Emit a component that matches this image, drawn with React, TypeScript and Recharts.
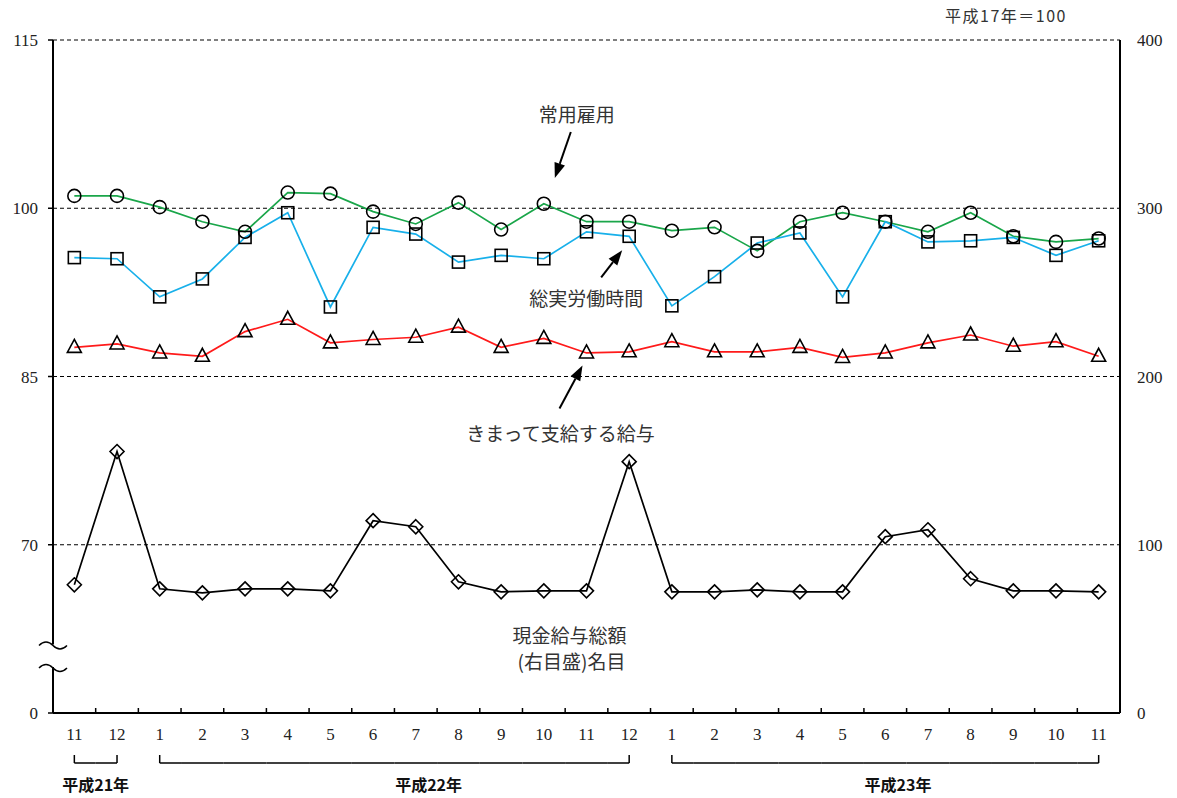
import React from 'react';
import { LineChart, Line, XAxis, YAxis, ReferenceLine, ReferenceDot, ReferenceArea } from 'recharts';

// months, keyed by year so the keys stay unique
const CATEGORIES = [
  '21-11', '21-12',
  '22-1', '22-2', '22-3', '22-4', '22-5', '22-6', '22-7', '22-8', '22-9', '22-10', '22-11', '22-12',
  '23-1', '23-2', '23-3', '23-4', '23-5', '23-6', '23-7', '23-8', '23-9', '23-10', '23-11',
];

const YEARS = [
  { label: '平成21年', first: 0, last: 1 },
  { label: '平成22年', first: 2, last: 13 },
  { label: '平成23年', first: 14, last: 24 },
];

// left axis (平成17年=100)
const JOYO_KOYO = [101.1, 101.1, 100.1, 98.8, 97.9, 101.4, 101.3, 99.7, 98.6, 100.5, 98.1, 100.4, 98.8, 98.8, 98.0, 98.3, 96.2, 98.8, 99.6, 98.8, 97.9, 99.6, 97.5, 97.0, 97.3];
const SOJITSU_RODO = [95.6, 95.5, 92.1, 93.7, 97.4, 99.6, 91.2, 98.3, 97.7, 95.2, 95.8, 95.5, 97.9, 97.5, 91.3, 93.9, 96.9, 97.8, 92.1, 98.8, 97.0, 97.1, 97.4, 95.8, 97.1];
const KIMATTE_KYUYO = [87.6, 87.9, 87.1, 86.8, 89.0, 90.1, 88.0, 88.3, 88.5, 89.4, 87.6, 88.4, 87.1, 87.2, 88.1, 87.2, 87.2, 87.6, 86.7, 87.1, 88.0, 88.7, 87.7, 88.1, 86.8];
// right axis
const GENKIN_KYUYO = [76.2, 155.4, 73.8, 71.4, 73.8, 73.8, 72.6, 114.3, 110.7, 78.0, 72.0, 72.6, 72.6, 149.4, 72.0, 72.0, 73.2, 72.0, 72.0, 104.8, 108.9, 79.8, 72.6, 72.6, 72.0];

const LEFT_TICKS = [55, 70, 85, 100, 115];
const RIGHT_TICKS = [0, 100, 200, 300, 400];
const GRID_VALUES = [70, 85, 100, 115];
// the broken stretch of the left axis
const BREAK_FROM = 59.1;
const BREAK_TO = 61.1;

const data = CATEGORIES.map((key, i) => ({
  key,
  joyo: JOYO_KOYO[i],
  sojitsu: SOJITSU_RODO[i],
  kimatte: KIMATTE_KYUYO[i],
  genkin: GENKIN_KYUYO[i],
}));

// where each year caption sits, in category-index units
const YEAR_LABEL_AT = [0.5, 8.3, 19.3];

const SERIF = "'Liberation Serif', 'DejaVu Serif', serif";
const JP = "'Noto Sans CJK JP', sans-serif";

// annotations: anchored on a category + left-axis value, offsets in px
const ANNOTATIONS = [
  { x: '22-10', y: 102.7, tip: [11, 0], tail: [27, -46], text: ['常用雇用'], textAt: [33, -64] },
  { x: '22-12', y: 96.25, tip: [-7, 0], tail: [-28, 27], text: ['総実労働時間'], textAt: [-43, 47] },
  { x: '22-11', y: 85.98, tip: [-4, 0], tail: [-27, 43], text: ['きまって支給する給与'], textAt: [-26, 67] },
  { x: '22-11', y: 61.96, tip: null, tail: null, text: ['現金給与総額', '(右目盛)名目'], textAt: [-17, 0] },
];

function Marker({ kind, cx, cy }: { kind: string; cx: number; cy: number }) {
  const s = { fill: 'none', stroke: '#000', strokeWidth: 1.6 };
  if (kind === 'circle') return <circle cx={cx} cy={cy} r={6.5} {...s} />;
  if (kind === 'square') return <rect x={cx - 6} y={cy - 6} width={12} height={12} {...s} />;
  if (kind === 'triangle')
    return <polygon points={`${cx},${cy - 8} ${cx + 7},${cy + 5} ${cx - 7},${cy + 5}`} {...s} />;
  return <polygon points={`${cx},${cy - 7} ${cx + 7},${cy} ${cx},${cy + 7} ${cx - 7},${cy}`} {...s} />;
}

const dotOf = (kind: string) => (props: any) => {
  const { cx, cy, index } = props;
  if (cx == null || cy == null) return <g key={`${kind}-${index}`} />;
  return (
    <g key={`${kind}-${index}`}>
      <Marker kind={kind} cx={cx} cy={cy} />
    </g>
  );
};

function MonthTick(props: any) {
  const { x, y, payload, index, width } = props;
  const bw = (width || 1067) / CATEGORIES.length;
  const month = String(payload.value).split('-')[1];
  const yi = YEARS.findIndex((yr) => index >= yr.first && index <= yr.last);
  const yr = YEARS[yi];
  const isFirst = index === yr.first;
  const isLast = index === yr.last;
  const left = isFirst ? x : x - bw / 2;
  const right = isLast ? x : x + bw / 2;
  const by = y + 50;
  return (
    <g>
      {index > 0 && <line x1={x - bw / 2} x2={x - bw / 2} y1={y} y2={y - 5} stroke="#000" strokeWidth={1.5} />}
      <text x={x} y={y + 27} textAnchor="middle" fontFamily={SERIF} fontSize={17} fill="#222">
        {month}
      </text>
      <line x1={left} x2={right} y1={by} y2={by} stroke="#000" strokeWidth={1.5} />
      {isFirst && <line x1={x} x2={x} y1={by} y2={by - 8} stroke="#000" strokeWidth={1.5} />}
      {isLast && <line x1={x} x2={x} y1={by} y2={by - 8} stroke="#000" strokeWidth={1.5} />}
      {isFirst && (
        <text
          x={x + (YEAR_LABEL_AT[yi] - yr.first) * bw}
          y={y + 78}
          textAnchor="middle"
          fontFamily={JP}
          fontWeight="bold"
          fontSize={16}
          fill="#111"
        >
          {yr.label}
        </text>
      )}
    </g>
  );
}

// left axis line, drawn piecewise so the break stays open
const AxisPiece = (props: any) => {
  const { x, y, height } = props;
  if (x == null) return <g />;
  return <line x1={x} x2={x} y1={y} y2={y + height} stroke="#000" strokeWidth={2} />;
};

const AxisBreak = (props: any) => {
  const { x, y, height } = props;
  if (x == null) return <g />;
  const wave = (yy: number) => `M ${x - 14} ${yy + 1} q 7 -7 14 0 q 7 7 14 0`;
  return (
    <g>
      <path d={wave(y)} fill="none" stroke="#000" strokeWidth={1.5} />
      <path d={wave(y + height)} fill="none" stroke="#000" strokeWidth={1.5} />
    </g>
  );
};

function Arrow({ from, to }: { from: number[]; to: number[] }) {
  const dx = to[0] - from[0];
  const dy = to[1] - from[1];
  const len = Math.sqrt(dx * dx + dy * dy);
  const ux = dx / len;
  const uy = dy / len;
  const head = 15;
  const hw = 5.5;
  const bx = to[0] - ux * head;
  const by = to[1] - uy * head;
  return (
    <g>
      <line x1={from[0]} y1={from[1]} x2={bx} y2={by} stroke="#000" strokeWidth={2} />
      <polygon
        points={`${to[0]},${to[1]} ${bx - uy * hw},${by + ux * hw} ${bx + uy * hw},${by - ux * hw}`}
        fill="#000"
      />
    </g>
  );
}

const annotationShape = (a: (typeof ANNOTATIONS)[number]) => (props: any) => {
  const { cx, cy } = props;
  if (cx == null) return <g />;
  return (
    <g>
      {a.tip && a.tail && (
        <Arrow from={[cx + a.tail[0], cy + a.tail[1]]} to={[cx + a.tip[0], cy + a.tip[1]]} />
      )}
      {a.text.map((t, i) => (
        <text
          key={t}
          x={cx + a.textAt[0] + i * 2}
          y={cy + a.textAt[1] + i * 26}
          textAnchor="middle"
          dominantBaseline="central"
          fontFamily={JP}
          fontSize={19}
          fill="#333"
        >
          {t}
        </text>
      ))}
    </g>
  );
};

export default function App() {
  return (
    <div style={{ position: 'absolute', left: 0, top: 0, width: 1177, height: 798, background: '#fff' }}>
      <div
        style={{
          position: 'absolute',
          left: 945,
          top: 3,
          fontFamily: JP,
          fontSize: 16,
          letterSpacing: 1.5,
          color: '#333',
          whiteSpace: 'nowrap',
        }}
      >
        平成17年＝100
      </div>
      <LineChart width={1177} height={798} data={data} margin={{ top: 40, right: 7, bottom: 0, left: 8 }}>
        <XAxis
          dataKey="key"
          scale="band"
          interval={0}
          height={85}
          tickSize={0}
          tickMargin={0}
          tickLine={false}
          axisLine={{ stroke: '#000', strokeWidth: 2 }}
          tick={<MonthTick />}
        />
        <YAxis
          yAxisId="left"
          domain={[55, 115]}
          ticks={LEFT_TICKS}
          allowDataOverflow
          width={45}
          tickSize={5}
          tickMargin={10}
          tickFormatter={(v) => (v === 55 ? '0' : String(v))}
          axisLine={false}
          tickLine={{ stroke: '#000', strokeWidth: 1.5 }}
          tick={{ fontFamily: SERIF, fontSize: 17, fill: '#222' }}
        />
        <YAxis
          yAxisId="right"
          orientation="right"
          domain={[0, 400]}
          ticks={RIGHT_TICKS}
          width={50}
          tickSize={0}
          tickMargin={17}
          tickLine={false}
          axisLine={{ stroke: '#000', strokeWidth: 2 }}
          tick={{ fontFamily: SERIF, fontSize: 17, fill: '#222', textAnchor: 'start' }}
        />
        {GRID_VALUES.map((v) => (
          <ReferenceLine key={v} yAxisId="left" y={v} stroke="#000" strokeWidth={1.2} strokeDasharray="4 3" />
        ))}
        <ReferenceArea yAxisId="left" y1={BREAK_TO} y2={115} shape={AxisPiece} />
        <ReferenceArea yAxisId="left" y1={55} y2={BREAK_FROM} shape={AxisPiece} />
        <ReferenceArea yAxisId="left" y1={BREAK_FROM} y2={BREAK_TO} shape={AxisBreak} />
        <Line
          yAxisId="left"
          dataKey="joyo"
          stroke="#1aa64a"
          strokeWidth={1.7}
          dot={dotOf('circle')}
          activeDot={false}
          isAnimationActive={false}
        />
        <Line
          yAxisId="left"
          dataKey="sojitsu"
          stroke="#18b0ea"
          strokeWidth={1.7}
          dot={dotOf('square')}
          activeDot={false}
          isAnimationActive={false}
        />
        <Line
          yAxisId="left"
          dataKey="kimatte"
          stroke="#ff1a1a"
          strokeWidth={1.7}
          dot={dotOf('triangle')}
          activeDot={false}
          isAnimationActive={false}
        />
        <Line
          yAxisId="right"
          dataKey="genkin"
          stroke="#000"
          strokeWidth={1.7}
          dot={dotOf('diamond')}
          activeDot={false}
          isAnimationActive={false}
        />
        {ANNOTATIONS.map((a, i) => (
          <ReferenceDot key={i} yAxisId="left" x={a.x} y={a.y} r={0} shape={annotationShape(a)} />
        ))}
      </LineChart>
    </div>
  );
}
